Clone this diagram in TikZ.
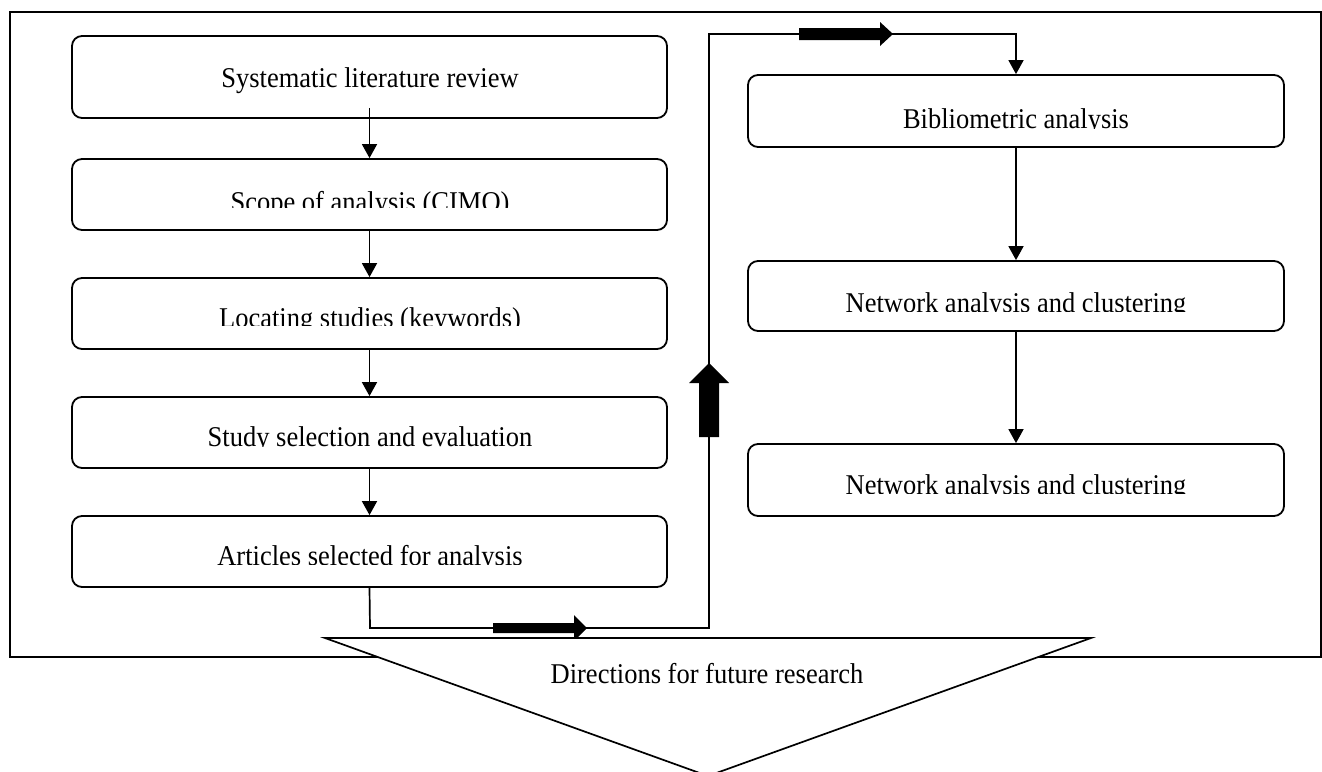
\documentclass[tikz,border=0pt]{standalone}
\usepackage{fontspec}
\usepackage{graphicx}
\setmainfont{Liberation Serif}
\usetikzlibrary{arrows.meta}
\newcommand{\stretchtxt}[1]{\scalebox{1}[1.08]{#1}}
\tikzset{
  box/.style={draw, line width=1.8pt, rounded corners=10pt, fill=white, inner sep=0pt},
  lbl/.style={font=\fontsize{26.5}{30}\selectfont, inner sep=0pt, anchor=base},
  conn/.style={line width=1.7pt},
  arr/.style={conn, -{Triangle[length=14pt,width=15pt]}},
  fat/.style={fill=black, draw=none},
}
\begin{document}
\begin{tikzpicture}[x=1pt,y=-1pt]
\clip (0,0) rectangle (1322,771);
\fill[white] (0,0) rectangle (1322,771);
% outer frame
\draw[line width=1.7pt] (10,12) rectangle (1321,657);
% left column boxes
\node[box, minimum width=595pt, minimum height=82pt] (b1) at (369.5,77) {};
\node[box, minimum width=595pt, minimum height=71pt] (b2) at (369.5,194.5) {};
\node[box, minimum width=595pt, minimum height=71pt] (b3) at (369.5,313.5) {};
\node[box, minimum width=595pt, minimum height=71pt] (b4) at (369.5,432.5) {};
\node[box, minimum width=595pt, minimum height=71pt] (b5) at (369.5,551.5) {};
% right column boxes
\node[box, minimum width=536pt, minimum height=72pt] (r1) at (1016,111) {};
\node[box, minimum width=536pt, minimum height=70pt] (r2) at (1016,296) {};
\node[box, minimum width=536pt, minimum height=72pt] (r3) at (1016,480) {};
% labels
\node[lbl] (t1) at (370,87.5) {\stretchtxt{Systematic literature review}};
\begin{scope}\clip (0,0) rectangle (1322,207);
\node[lbl] (t2) at (370,211.5) {\stretchtxt{Scope of analysis (CIMO)}};\end{scope}
\begin{scope}\clip (0,250) rectangle (1322,325);
\node[lbl] (t3) at (370,327.5) {\stretchtxt{Locating studies (keywords)}};\end{scope}
\begin{scope}\clip (0,380) rectangle (1322,446);
\node[lbl] (t4) at (370,446.5) {\stretchtxt{Study selection and evaluation}};\end{scope}
\begin{scope}\clip (0,500) rectangle (1322,564);
\node[lbl] (t5) at (370,565.5) {\stretchtxt{Articles selected for analysis}};\end{scope}
\begin{scope}\clip (700,60) rectangle (1322,128);
\node[lbl] (t6) at (1016,128) {\stretchtxt{Bibliometric analysis}};\end{scope}
\begin{scope}\clip (700,240) rectangle (1322,311);
\node[lbl] (t7) at (1016,312) {\stretchtxt{Network analysis and clustering}};\end{scope}
\begin{scope}\clip (700,430) rectangle (1322,493);
\node[lbl] (t8) at (1016,494.5) {\stretchtxt{Network analysis and clustering}};\end{scope}
% thin arrows
\draw[arr] ([yshift=11pt]b1.south) -- (b2.north);
\draw[arr] (b2.south) -- (b3.north);
\draw[arr] (b3.south) -- (b4.north);
\draw[arr] (b4.south) -- (b5.north);
\draw[arr] (r1.south) -- (r2.north);
\draw[arr] (r2.south) -- (r3.north);
% long connector
\coordinate (c1) at (370,628);
\coordinate (c2) at (709,628);
\coordinate (c3) at (709,34);
\coordinate (c4) at (1016,34);
\draw[arr] (b5.south) -- (c1) -- (c2) -- (c3) -- (c4) -- (r1.north);
% fat arrows
\fill[fat] (493,623) -- (574,623) -- (574,615) -- (587,628) -- (574,641) -- (574,633) -- (493,633) -- cycle;
\fill[fat] (799,28) -- (880,28) -- (880,22) -- (893,34) -- (880,46) -- (880,40) -- (799,40) -- cycle;
\fill[fat] (699,437) -- (699,383) -- (689,383) -- (709,363) -- (729,383) -- (719,383) -- (719,437) -- cycle;
% directions triangle
\draw[line width=1.7pt, fill=white] (325,638) -- (1091,638) -- (708,776) -- cycle;
\node[lbl] (td) at (707,683) {\stretchtxt{Directions for future research}};
\end{tikzpicture}
\end{document}
